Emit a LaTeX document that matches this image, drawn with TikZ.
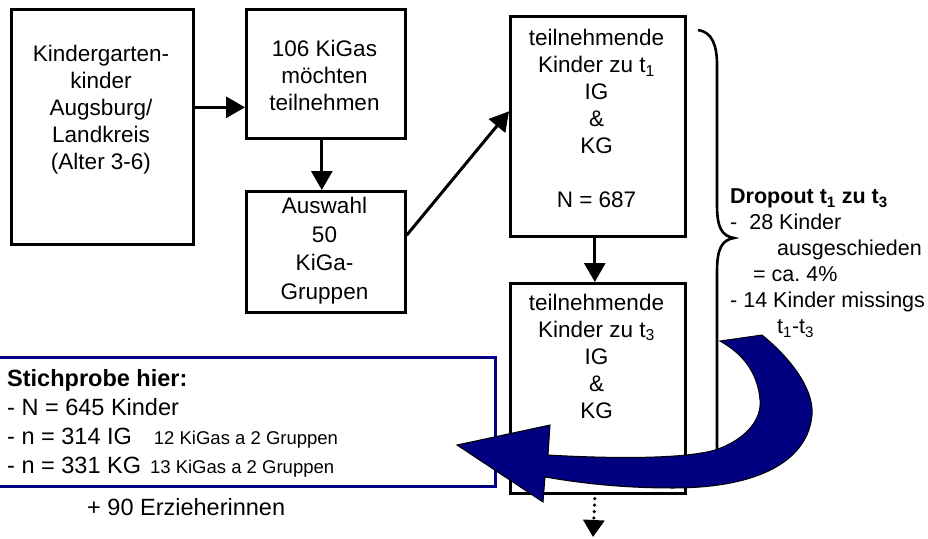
\documentclass[tikz,border=0pt]{standalone}
\usepackage{fontspec}
\setmainfont{Liberation Sans}
\usetikzlibrary{arrows.meta}
\definecolor{navyblue}{RGB}{0,0,128}
\newcommand\lo[1]{\textsubscript{#1}}
\newcommand\boxfont{\fontsize{22.5}{27}\selectfont}
\newcommand\notefont{\fontsize{21.5}{26}\selectfont}
\newcommand\samplefont{\fontsize{23.5}{29}\selectfont}
\newcommand\smallnote{\fontsize{18.5}{22}\selectfont}
\begin{document}
\begin{tikzpicture}[x=1pt,y=-1pt,
  stage/.style={draw,line width=2.6pt,inner sep=0pt,anchor=north west},
  label/.style={align=center,inner sep=0pt,font=\boxfont},
  arr/.style={line width=3pt,-{Triangle[width=21pt,length=19pt]}},
]
\useasboundingbox (0,0) rectangle (928,538);
\clip (0,0) rectangle (928,538);

% flow boxes
\node[stage,minimum width=182pt,minimum height=235pt] (b1) at (10,8) {};
\node[stage,minimum width=159pt,minimum height=129pt] (b2) at (245,8) {};
\node[stage,minimum width=159pt,minimum height=121pt] (b3) at (245,190) {};
\node[stage,minimum width=175pt,minimum height=220pt] (b4) at (509,15) {};
\node[stage,minimum width=175pt,minimum height=210pt] (b5) at (509,282) {};

% box texts
\node[label] (t1) at (101,110) {Kindergarten-\\kinder\\Augsburg/\\Landkreis\\(Alter 3-6)};
\node[label] (t2) at (324.5,75) {106 KiGas\\möchten\\teilnehmen};
\node[label,font=\fontsize{22.5}{28.5}\selectfont] (t3) at (324.5,250.5) {Auswahl\\50\\KiGa-\\Gruppen};
\node[label] (t4) at (596.5,118.5) {teilnehmende\\Kinder zu t\lo{1}\\IG\\\&\\KG\\[27pt]N = 687};
\node[label] (t5) at (596.5,356) {teilnehmende\\Kinder zu t\lo{3}\\IG\\\&\\KG};

% connectors
\draw[arr] ([yshift=19.5pt]b1.east) -- ([yshift=19.5pt]b1.east -| b2.west);
\draw[arr] ([xshift=-4pt]b2.south) -- ([xshift=-4pt]b3.north);
\draw[arr] ([yshift=16.5pt]b3.east) -- ([yshift=15pt]b4.west);
\draw[arr] ([xshift=-3pt]b4.south) -- ([xshift=-3pt]b5.north);
\coordinate (cont) at (593,537);
\draw[line width=3.5pt,line cap=round,dash pattern=on 0pt off 6.5pt,
      -{Triangle[width=21pt,length=17pt]}] ([xshift=-3pt,yshift=-4pt]b5.south) -- (cont);

% dropout brace and note
\draw[line width=2.6pt]
  (698,30) .. controls (712,32) and (717,45) .. (717,65) -- (717,205)
  .. controls (717,228) and (722,236) .. (734,238)
  .. controls (722,240) and (717,248) .. (717,272) -- (717,455)
  .. controls (717,470) and (712,476) .. (700,478);
\node[anchor=north west,align=left,inner sep=0pt,font=\notefont] (drop) at (730,189)
  {\textbf{Dropout t\lo{1} zu t\lo{3}}\\
   -\ \ 28 Kinder\\
   \hspace*{47pt}ausgeschieden\\
   \hspace*{23pt}= ca.\ 4\%\\
   - 14 Kinder missings\\
   \hspace*{47pt}t\lo{1}-t\lo{3}};

% sample box
\node[draw=navyblue,line width=2.8pt,inner sep=0pt,anchor=north west,
      minimum width=499pt,minimum height=129pt] (sample) at (-5,356) {};
\node[anchor=north west,align=left,inner sep=0pt,font=\samplefont] (st) at (7,369.5)
  {\textbf{Stichprobe hier:}\\
   - N = 645 Kinder\\
   - n = 314 IG\hspace{22pt}{\smallnote 12 KiGas a 2 Gruppen}\\
   - n = 331 KG\hspace{9pt}{\smallnote 13 KiGas a 2 Gruppen}};
\node[anchor=west,inner sep=0pt,font=\samplefont] (staff) at (87,507) {+ 90 Erzieherinnen};

% curved block arrow back to the sample
\filldraw[fill=navyblue,draw=black,line width=1pt]
  (762,335) .. controls (795,362) and (814,392) .. (812,415)
  .. controls (808,460) and (760,488) .. (673,488)
  .. controls (620,488) and (580,483) .. (545,477)
  -- (543,502) -- (457,445) -- (550,425) -- (548,455)
  .. controls (600,458) and (680,460) .. (715,450)
  .. controls (745,440) and (762,420) .. (760,400)
  .. controls (758,375) and (745,355) .. (720,341) -- cycle;
\end{tikzpicture}
\end{document}
